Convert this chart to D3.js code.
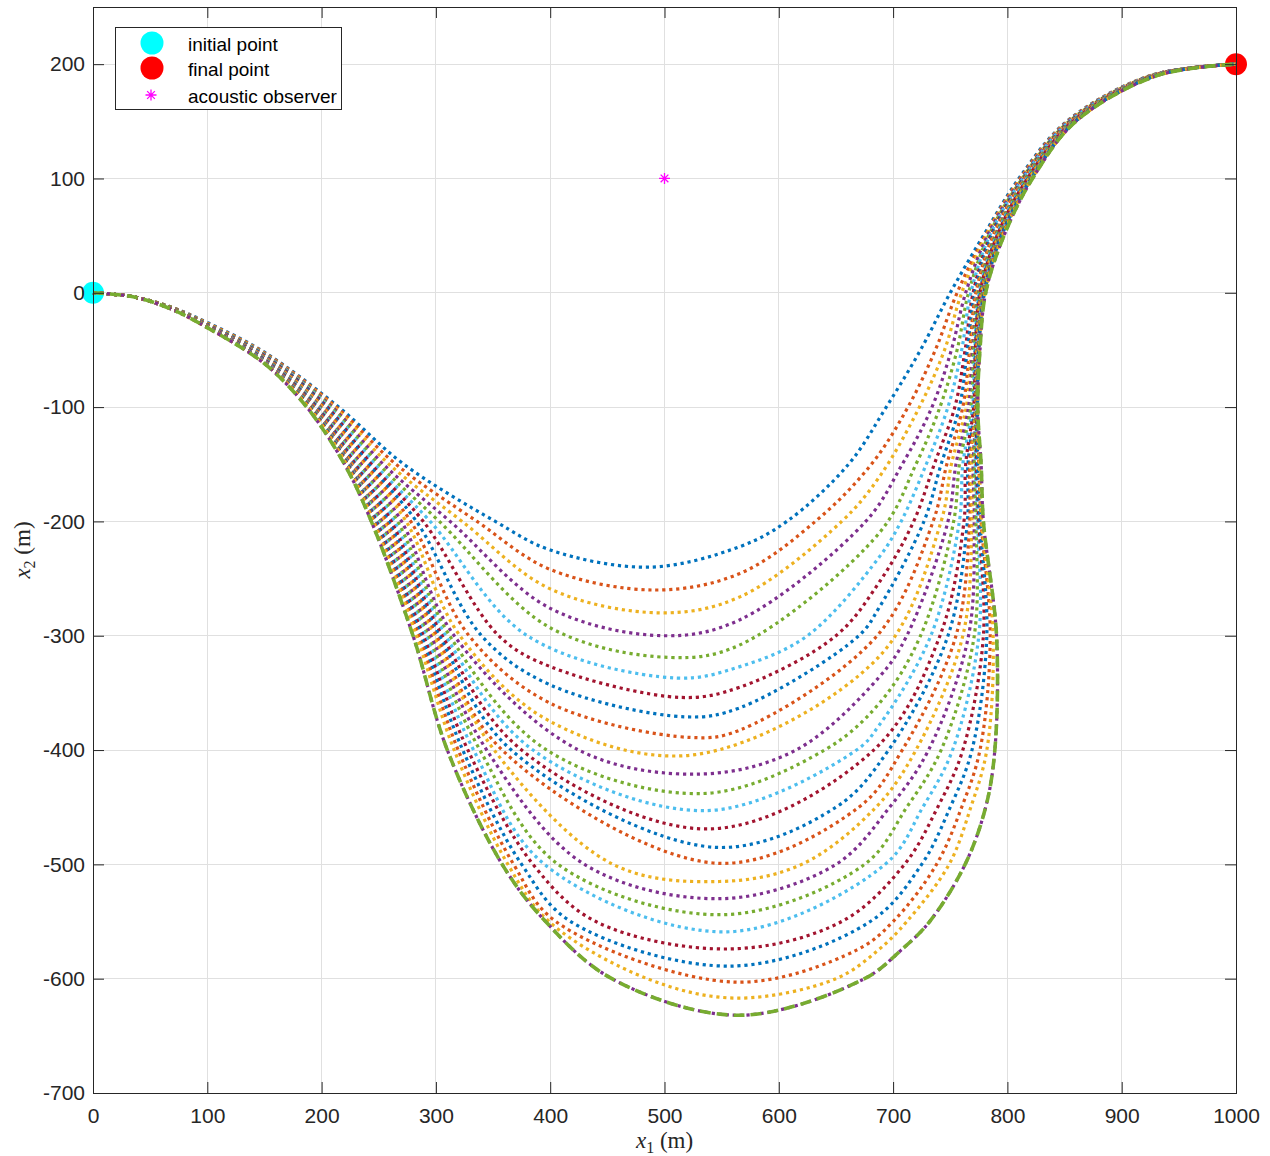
<!DOCTYPE html>
<html><head><meta charset="utf-8">
<script src="https://cdn.jsdelivr.net/npm/d3@7"></script>
<style>
body{margin:0;background:#fff;}
svg{display:block;}
</style></head>
<body><svg id="chart" width="1270" height="1156"></svg>
<script>
// ---------------- data ----------------
const xTicks = [0,100,200,300,400,500,600,700,800,900,1000];
const yTicks = [-700,-600,-500,-400,-300,-200,-100,0,100,200];
const startPoint = [0,0];
const endPoint = [1000,200];
const observer = [500,100];
const legendLabels = ["initial point","final point","acoustic observer"];

// 26 trajectories: index 0..24 dotted, index 25 dashed (coincides with 24)
const minY = [-240,-260,-280,-300,-319,-337,-354,-371,-389,-404,-421,-438,-453,-469,-485,-499,-515,-530,-544,-559,-574,-589,-603,-617,-632,-632];
const minX = [487,492,497,500,505,510,515,519,523,527,531,534,537,540,543,546,548,550,552,555,557,559,561,563,565,565];

// left branch: y at given x
const yAtX35  = [-3.5,-3.5,-3.5,-3.5,-3.5,-3.5,-3.5,-3.5,-3.5,-3.5,-3.5,-3.5,-3.5,-3.5,-3.5,-3.5,-3.5,-3.5,-3.5,-3.5,-3.5,-3.5,-3.5,-3.5,-3.5,-3.5];
const yAtX68  = [-12.5,-12.5,-12.5,-12.5,-12.5,-13,-13,-13,-13,-13,-13,-13,-13.5,-13.5,-13.5,-13.5,-13.5,-13.5,-13.5,-14,-14,-14,-14,-14,-14,-14];
const yAtX100 = [-26,-26.5,-27,-27.5,-27.5,-28,-28,-28,-28.5,-28.5,-28.5,-29,-29,-29,-29.5,-29.5,-29.5,-30,-30,-30,-30,-30,-30.5,-30.5,-30.5,-30.5];
const yAtX150 = [-52,-52.5,-53,-53.5,-54,-54.5,-55,-55.5,-56,-56.5,-57,-57.5,-58,-58.5,-59,-59.5,-60,-60,-60.5,-60.5,-61,-61,-61.5,-61.5,-62,-62];
const yAtX400 = [-225,-242,-259,-276,-293,-310,-327,-343,-359,-375,null,null,null,null,null,null,null,null,null,null,null,null,null,-549,-557,-557];
// left branch: x at given y
const leftXm100 = [215,213,211,209.5,208,206.5,205,203.5,202,200.5,199,198,197,196,195,194,193,192.5,191.5,190.5,190,189.5,189,188.5,187,187];
const leftXm150 = [272,265,259,254,250,246.5,243.5,241,238.5,236.5,234.5,232.5,231,229.5,228,227,226,225,224,223.5,223,222.5,222,221.5,220,220];
const leftXm200 = [352,336,323,312.5,303,295,289,283,278,274,270,266.5,263.5,261,258.5,256.5,254.5,252.5,251,249.5,248,247,246,245,243.5,243.5];
const leftXm300 = [null,null,null,null,415,380,355,340,329,321,316,312,308.5,305.5,303,300.5,298,295.5,293,291,289,287,285,283,280,280];
const leftXm400 = [null,null,null,null,null,null,null,null,null,null,425,397,385,375,366,358,351,344.5,338.5,333,328,323.5,319.5,316,310,310];
const leftXm500 = [null,null,null,null,null,null,null,null,null,null,null,null,null,null,null,null,455,430,407,395,385,375,368,363,358,358];
const leftXm550 = [null,null,null,null,null,null,null,null,null,null,null,null,null,null,null,null,null,null,null,null,440,418,405,399,396,396];
const leftXm600 = [null,null,null,null,null,null,null,null,null,null,null,null,null,null,null,null,null,null,null,null,null,null,null,485,454,454];

// right branch: y at given x
const yAtX566 = [-222,-245.5,-266,-286,-308,-327,-345,-363,-382.5,null,null,null,null,null,null,null,null,null,null,null,null,null,null,null,null,null];
const yAtX688 = [-97,-138,-161,-181,-210,-231,-253,-275,-296,-318,-336,-359,-378,-394,null,null,null,null,null,null,null,null,null,null,null,null];
// right branch: x at given y
const rightXm600 = [null,null,null,null,null,null,null,null,null,null,null,null,null,null,null,null,null,null,null,null,null,null,null,650,675,675];
const rightXm575 = [null,null,null,null,null,null,null,null,null,null,null,null,null,null,null,null,null,null,null,null,null,null,668,687,707,707];
const rightXm550 = [null,null,null,null,null,null,null,null,null,null,null,null,null,null,null,null,null,null,null,null,655,680,700,712,732,732];
const rightXm500 = [null,null,null,null,null,null,null,null,null,null,null,null,null,null,null,null,620,650,675,693,710,725,738,749,763,763];
const rightXm450 = [null,null,null,null,null,null,null,null,null,null,null,null,null,null,650,670,685,697,712,726,739,750,760,768,781,781];
const rightXm400 = [null,null,null,null,null,null,null,null,null,null,615,640,668,683,696,708,720,731,742,752,761,769,776,782,789,789];
const rightXm300 = [null,null,null,null,585,625,650,670,686,700,712,724,733,741,748,755,761,766,771,775,779,782,785,787.5,790.5,790.5];
const rightXm200 = [607,632,655,676,693,707,718,727,735,742,748,753,758,762,765,767,769,771,772.5,774,775,776,777,777.5,779,779];
const rightXm150 = [661,681,696,708,720,729,736,742,747,751,755,758,761,763.5,765.5,767,768.5,770,771,772,773,774,775,775.5,777,777];
const rightXm100 = [694,713,723,734,741,748,754,758,761,764,766,768,769.5,770.5,771.5,772,772.5,773,773,773.5,773.5,774,774,774,774,774];
const rightXm50  = [724,737,745,751,756,760,763,765,767,768.5,769.5,770.5,771.5,772,772.5,773,773.5,774,774.5,774.5,775,775,775.5,775.5,776,776];
const rightX0    = [750,756,760,763.5,766,768,770,771.5,772.5,773.5,774.5,775,775.5,776,776.5,777,777.5,778,778.5,779,779.5,780,780,780.5,781,781];
const rightX50   = [779,780.5,781.5,782.5,783.5,784.5,785.5,786.5,787.5,788.5,789.5,790,790.5,791,791.5,792,792.5,793,793.5,794,794.5,795,795.5,796,797,797];
const rightX100  = [810,811,812,812.5,813,813.5,814,814.5,815,815.5,816,816.5,817,817.5,818,818.5,819,819.5,820,820.5,821,821,821.5,821.5,822,822];
const rightX150  = [852,852.5,853,853.5,854,854.5,855,855.5,856,856.5,857,857,857.5,857.5,858,858,858.5,858.5,859,859,859.5,859.5,859.5,860,860,860];
const rightX190  = [925,925.5,925.5,926,926,926.5,926.5,927,927,927.5,927.5,928,928,928.5,928.5,929,929,929.5,929.5,930,930,930,930.5,930.5,931,931];

// ---------------- styles ----------------
const palette = ["#0072BD","#D95319","#EDB120","#7E2F8E","#77AC30","#4DBEEE","#A2142F"];
const axisColor = "#262626";
const gridColor = "#e0e0e0";
const fontSans = "'Liberation Sans', Arial, Helvetica, sans-serif";
const fontSerif = "'Liberation Serif', 'Times New Roman', serif";

const svg = d3.select("#chart");
const L = 93, R = 1236, T = 7, B = 1093;
const x = d3.scaleLinear().domain([0,1000]).range([L,R]);
const y = d3.scaleLinear().domain([-700,250]).range([B,T]);

// grid
const grid = svg.append("g");
grid.selectAll("line.gx").data(xTicks).join("line")
  .attr("x1",d=>x(d)).attr("x2",d=>x(d)).attr("y1",T).attr("y2",B)
  .attr("stroke",gridColor).attr("stroke-width",1).attr("shape-rendering","crispEdges");
grid.selectAll("line.gy").data(yTicks).join("line")
  .attr("y1",d=>y(d)).attr("y2",d=>y(d)).attr("x1",L).attr("x2",R)
  .attr("stroke",gridColor).attr("stroke-width",1).attr("shape-rendering","crispEdges");

// assemble curves
const levelsL = [[-100,leftXm100],[-150,leftXm150],[-200,leftXm200],[-300,leftXm300],[-400,leftXm400],[-500,leftXm500],[-550,leftXm550],[-600,leftXm600]];
const stationsL = [[35,yAtX35],[68,yAtX68],[100,yAtX100],[150,yAtX150],[400,yAtX400]];
const levelsR = [[-600,rightXm600],[-575,rightXm575],[-550,rightXm550],[-500,rightXm500],[-450,rightXm450],[-400,rightXm400],[-300,rightXm300],[-200,rightXm200],[-150,rightXm150],[-100,rightXm100],[-50,rightXm50],[0,rightX0],[50,rightX50],[100,rightX100],[150,rightX150],[190,rightX190]];
const stationsR = [[566,yAtX566],[688,yAtX688]];

const minGap = 30; // px: skip anchors that crowd a previous one
function pxDist(a,b){ return Math.hypot(x(a[0])-x(b[0]), y(a[1])-y(b[1])); }
function curvePoints(i){
  const left = [];
  stationsL.forEach(([sx,arr])=>{ if(arr[i]!=null && sx < minX[i]-10) left.push([sx,arr[i]]); });
  levelsL.forEach(([ly,arr])=>{ if(arr[i]!=null) left.push([arr[i],ly]); });
  left.sort((a,b)=>a[0]-b[0]);
  const right = [];
  stationsR.forEach(([sx,arr])=>{ if(arr[i]!=null && sx > minX[i]+10) right.push([sx,arr[i]]); });
  levelsR.forEach(([ly,arr])=>{ if(arr[i]!=null) right.push([arr[i],ly]); });
  right.sort((a,b)=>a[1]-b[1]);
  const mn = [minX[i],minY[i]];
  const out = [startPoint];
  left.forEach(p=>{ if(pxDist(p,out[out.length-1])>=minGap && pxDist(p,mn)>=minGap) out.push(p); });
  out.push(mn);
  right.forEach(p=>{ if(pxDist(p,out[out.length-1])>=minGap && pxDist(p,endPoint)>=minGap) out.push(p); });
  out.push(endPoint);
  return out;
}

const line = d3.line().x(d=>x(d[0])).y(d=>y(d[1])).curve(d3.curveCatmullRom.alpha(0.5));

// markers (start / end) drawn under the curves
const markerLayer = svg.append("g");
markerLayer.append("circle").attr("cx",x(startPoint[0])).attr("cy",y(startPoint[1])).attr("r",11).attr("fill","#00FFFF");
markerLayer.append("circle").attr("cx",x(endPoint[0])).attr("cy",y(endPoint[1])).attr("r",11).attr("fill","#FF0000");

const curveLayer = svg.append("g");
const nCurves = minY.length;
for(let i=0;i<nCurves;i++){
  const dashed = (i===nCurves-1);
  curveLayer.append("path")
    .attr("d", line(curvePoints(i)))
    .attr("fill","none")
    .attr("stroke", palette[i%7])
    .attr("stroke-width", dashed ? 3.6 : 3.2)
    .attr("stroke-dasharray", dashed ? "11,6" : "3.2,3.8");
}

// asterisk marker
function asterisk(g,cx,cy,r){
  const d = 0.7*r;
  const p = `M${cx},${cy-r}L${cx},${cy+r}M${cx-r},${cy}L${cx+r},${cy}M${cx-d},${cy-d}L${cx+d},${cy+d}M${cx-d},${cy+d}L${cx+d},${cy-d}`;
  g.append("path").attr("d",p).attr("stroke","#FF00FF").attr("stroke-width",1.3).attr("fill","none");
}
asterisk(svg, x(observer[0]), y(observer[1]), 5.5);

// axes (ticks inward, box)
const tickLen = 11;
const fmt = d=>String(d);
function styleAxis(g){
  g.select(".domain").remove();
  g.selectAll(".tick line").attr("stroke",axisColor).attr("stroke-width",1);
  g.selectAll(".tick text").attr("fill",axisColor).style("font-family",fontSans).style("font-size","21px");
}
svg.append("g").attr("transform",`translate(0,${B})`)
  .call(d3.axisBottom(x).tickValues(xTicks).tickFormat(fmt).tickSizeInner(-tickLen).tickSizeOuter(0).tickPadding(15))
  .call(styleAxis);
svg.append("g").attr("transform",`translate(0,${T})`)
  .call(d3.axisTop(x).tickValues(xTicks).tickFormat("").tickSizeInner(-tickLen).tickSizeOuter(0))
  .call(styleAxis);
svg.append("g").attr("transform",`translate(${L},0)`)
  .call(d3.axisLeft(y).tickValues(yTicks).tickFormat(fmt).tickSizeInner(-tickLen).tickSizeOuter(0).tickPadding(8))
  .call(styleAxis);
svg.append("g").attr("transform",`translate(${R},0)`)
  .call(d3.axisRight(y).tickValues(yTicks).tickFormat("").tickSizeInner(-tickLen).tickSizeOuter(0))
  .call(styleAxis);
svg.append("rect").attr("x",L).attr("y",T).attr("width",R-L).attr("height",B-T)
  .attr("fill","none").attr("stroke",axisColor).attr("stroke-width",1).attr("shape-rendering","crispEdges");

// axis labels
const xl = svg.append("text").attr("x",(L+R)/2).attr("y",1148).attr("text-anchor","middle")
  .attr("fill",axisColor).style("font-family",fontSerif).style("font-size","23px");
xl.append("tspan").style("font-style","italic").text("x");
xl.append("tspan").attr("dy",5).style("font-size","16px").text("1");
xl.append("tspan").attr("dy",-5).text(" (m)");

const yl = svg.append("text").attr("transform",`translate(30,${(T+B)/2}) rotate(-90)`).attr("text-anchor","middle")
  .attr("fill",axisColor).style("font-family",fontSerif).style("font-size","23px");
yl.append("tspan").style("font-style","italic").text("x");
yl.append("tspan").attr("dy",5).style("font-size","16px").text("2");
yl.append("tspan").attr("dy",-5).text(" (m)");

// legend
const lg = svg.append("g");
lg.append("rect").attr("x",115.5).attr("y",27.5).attr("width",226).attr("height",82)
  .attr("fill","#fff").attr("stroke",axisColor).attr("stroke-width",1);
const rowsY = [43,68,95];
lg.append("circle").attr("cx",152).attr("cy",rowsY[0]).attr("r",11.5).attr("fill","#00FFFF");
lg.append("circle").attr("cx",152).attr("cy",rowsY[1]).attr("r",11.5).attr("fill","#FF0000");
asterisk(lg,151,rowsY[2],5.5);
lg.selectAll("text.lt").data(legendLabels).join("text")
  .attr("x",188).attr("y",(d,i)=>rowsY[i]+2).attr("dy","0.32em")
  .attr("fill","#000").style("font-family",fontSans).style("font-size","19px").text(d=>d);
</script>
</body></html>
